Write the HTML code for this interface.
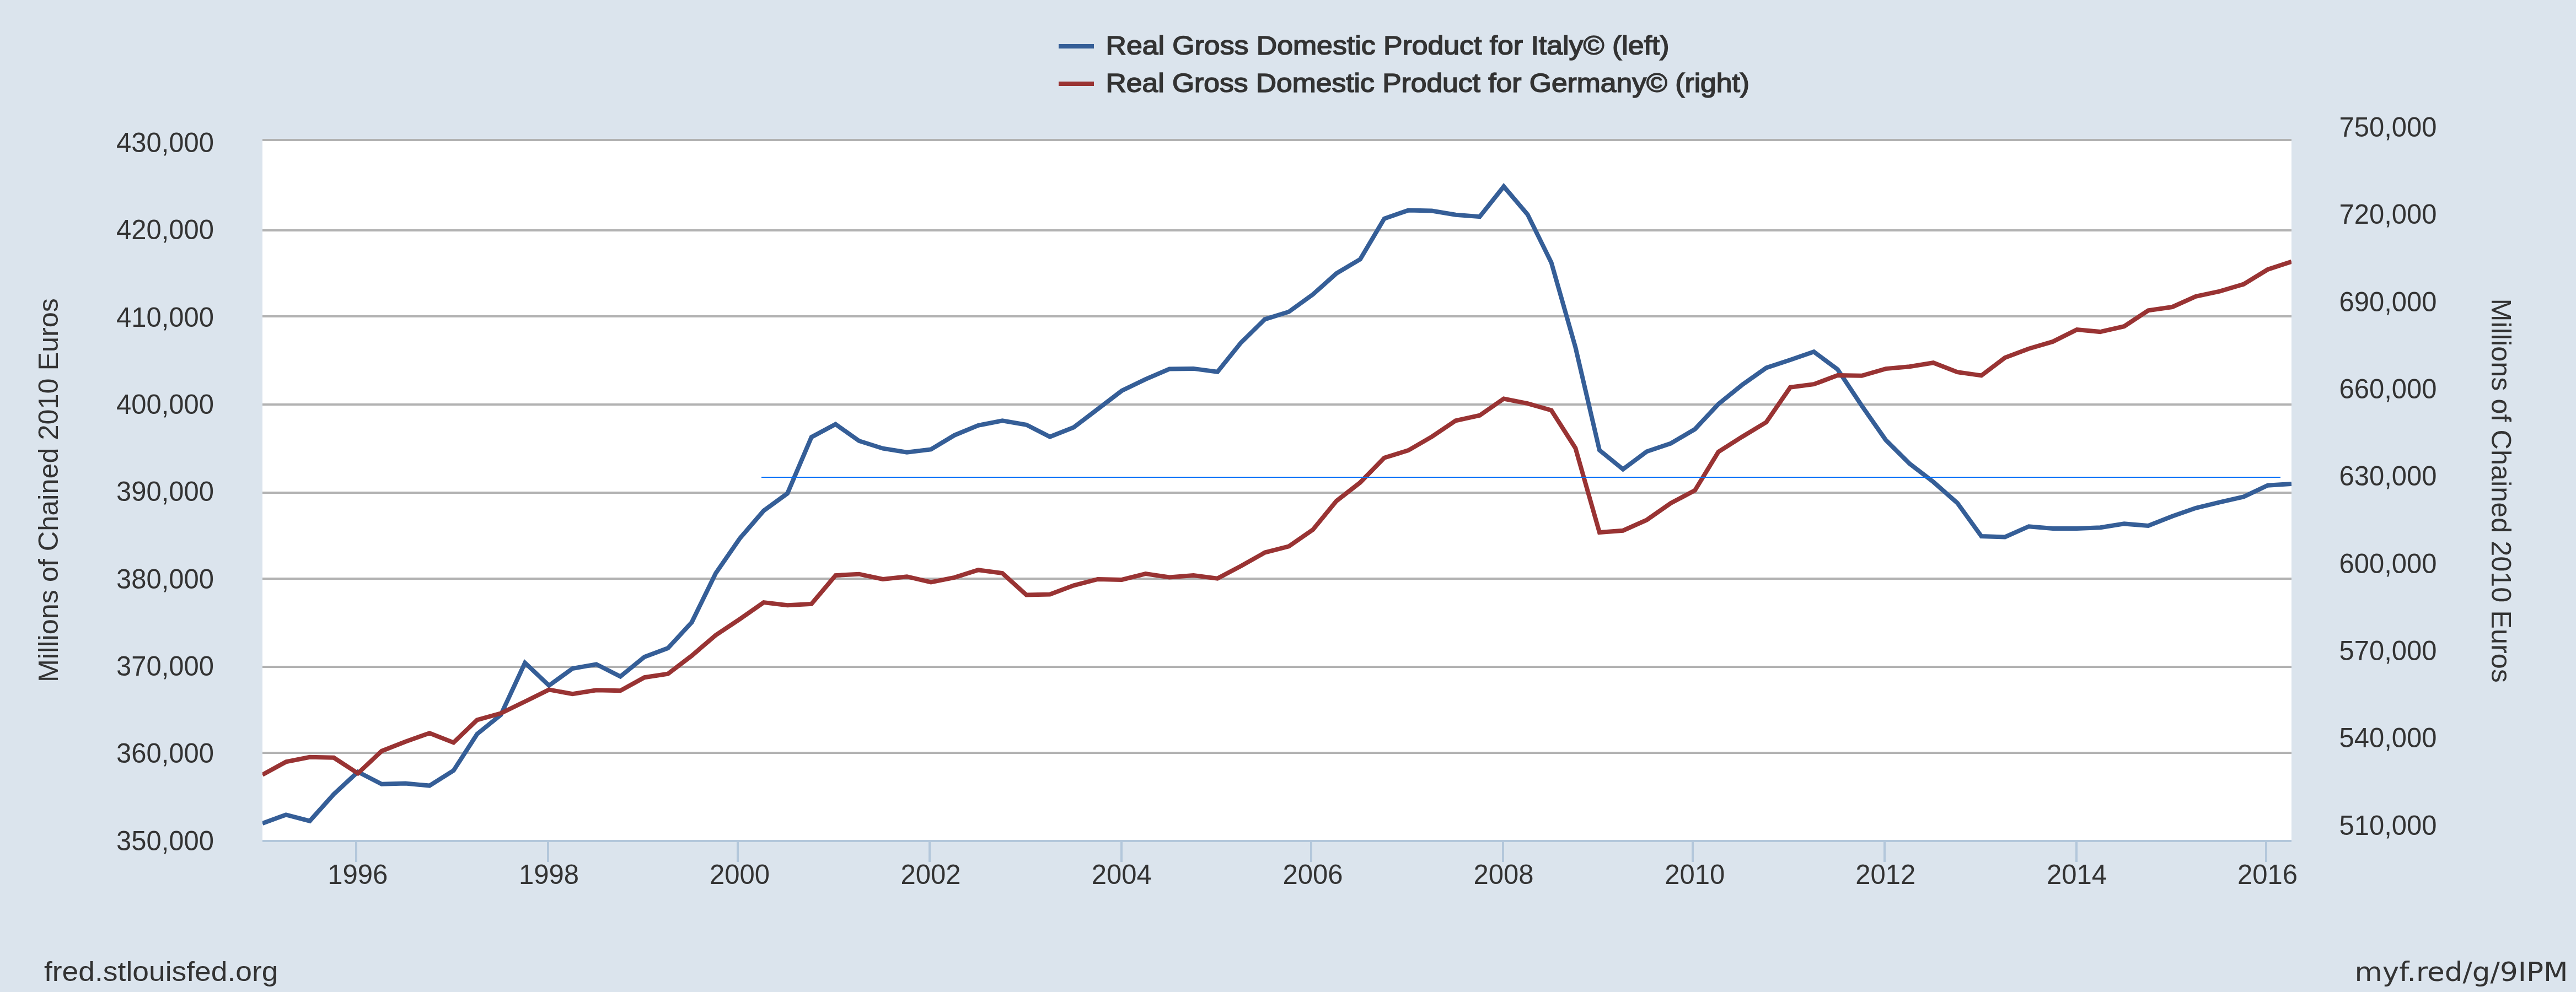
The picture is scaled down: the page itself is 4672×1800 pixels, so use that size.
<!DOCTYPE html>
<html><head><meta charset="utf-8"><title>FRED Graph</title>
<style>html,body{margin:0;padding:0;overflow:hidden;width:4672px;height:1800px;background:#dbe4ed}svg{display:block}text.lg{font-size:48.3px}text{font-family:"Liberation Sans",sans-serif;font-size:49.2px;fill:#333333}</style></head>
<body>
<svg width="4672" height="1800" viewBox="0 0 4672 1800">
<rect x="0" y="0" width="4672" height="1800" fill="#dbe4ed"/>
<rect x="476" y="254" width="3680" height="1274" fill="#ffffff"/>
<rect x="476" y="252" width="3680" height="4" fill="#b2b2b2"/>
<rect x="476" y="416" width="3680" height="4" fill="#b2b2b2"/>
<rect x="476" y="572" width="3680" height="4" fill="#b2b2b2"/>
<rect x="476" y="732" width="3680" height="4" fill="#b2b2b2"/>
<rect x="476" y="892" width="3680" height="4" fill="#b2b2b2"/>
<rect x="476" y="1048" width="3680" height="4" fill="#b2b2b2"/>
<rect x="476" y="1208" width="3680" height="4" fill="#b2b2b2"/>
<rect x="476" y="1364" width="3680" height="4" fill="#b2b2b2"/>
<rect x="476" y="1524" width="3680" height="4" fill="#b3c7db"/>
<rect x="644" y="1524" width="4" height="40" fill="#b3c7db"/>
<rect x="992" y="1524" width="4" height="40" fill="#b3c7db"/>
<rect x="1336" y="1524" width="4" height="40" fill="#b3c7db"/>
<rect x="1684" y="1524" width="4" height="40" fill="#b3c7db"/>
<rect x="2032" y="1524" width="4" height="40" fill="#b3c7db"/>
<rect x="2376" y="1524" width="4" height="40" fill="#b3c7db"/>
<rect x="2724" y="1524" width="4" height="40" fill="#b3c7db"/>
<rect x="3068" y="1524" width="4" height="40" fill="#b3c7db"/>
<rect x="3416" y="1524" width="4" height="40" fill="#b3c7db"/>
<rect x="3764" y="1524" width="4" height="40" fill="#b3c7db"/>
<rect x="4108" y="1524" width="4" height="40" fill="#b3c7db"/>
<defs><clipPath id="pc"><rect x="476" y="254" width="3680" height="1274"/></clipPath></defs>
<g clip-path="url(#pc)" fill="none" stroke-width="8" stroke-linejoin="miter" stroke-miterlimit="10" stroke-linecap="butt">
<path d="M476.0 1494.1 L518.7 1478.4 L561.8 1489.7 L605.4 1441.0 L649.1 1400.5 L692.2 1422.8 L735.4 1421.5 L779.0 1425.6 L822.6 1398.2 L865.3 1332.0 L908.4 1297.0 L952.1 1202.7 L995.7 1243.9 L1038.4 1213.0 L1081.5 1205.3 L1125.1 1227.5 L1168.8 1191.9 L1211.4 1176.1 L1254.6 1129.1 L1298.2 1040.0 L1341.8 977.0 L1385.0 926.8 L1428.1 895.3 L1471.7 793.1 L1515.4 769.8 L1558.0 800.0 L1601.2 813.7 L1644.8 820.6 L1688.4 815.4 L1731.1 789.7 L1774.3 771.9 L1817.9 763.3 L1861.5 770.8 L1904.2 792.5 L1947.3 775.5 L1991.0 742.3 L2034.6 709.0 L2077.7 688.1 L2120.9 669.6 L2164.5 668.9 L2208.1 674.7 L2250.8 621.6 L2294.0 579.4 L2337.6 565.7 L2381.2 534.2 L2423.9 496.1 L2467.0 470.4 L2510.6 396.7 L2554.3 381.6 L2596.9 382.6 L2640.1 389.8 L2683.7 393.2 L2727.3 338.4 L2770.5 389.1 L2813.6 476.5 L2857.3 630.0 L2900.9 816.8 L2943.6 851.5 L2986.7 819.3 L3030.3 804.5 L3074.0 778.8 L3116.6 733.2 L3159.8 698.3 L3203.4 667.4 L3247.0 653.0 L3289.7 638.3 L3332.8 670.2 L3376.5 736.0 L3420.1 798.4 L3463.2 841.2 L3506.4 874.4 L3550.0 912.7 L3593.6 973.0 L3636.3 974.5 L3679.5 955.2 L3723.1 958.9 L3766.7 958.9 L3809.4 957.2 L3852.5 950.4 L3896.2 954.0 L3939.8 936.8 L3982.5 921.8 L4025.6 911.3 L4069.2 901.4 L4112.9 880.7 L4156.0 878.1" stroke="#355e97"/>
<path d="M476.0 1405.7 L518.7 1382.4 L561.8 1373.8 L605.4 1374.8 L649.1 1403.3 L692.2 1362.8 L735.4 1345.7 L779.0 1330.3 L822.6 1347.4 L865.3 1306.3 L908.4 1294.3 L952.1 1273.0 L995.7 1251.4 L1038.4 1259.3 L1081.5 1252.3 L1125.1 1253.2 L1168.8 1229.2 L1211.4 1222.7 L1254.6 1189.8 L1298.2 1152.4 L1341.8 1123.3 L1385.0 1093.1 L1428.1 1098.3 L1471.7 1095.9 L1515.4 1044.1 L1558.0 1041.7 L1601.2 1051.0 L1644.8 1046.2 L1688.4 1056.4 L1731.1 1047.9 L1774.3 1034.2 L1817.9 1040.0 L1861.5 1079.4 L1904.2 1078.4 L1947.3 1062.3 L1991.0 1051.0 L2034.6 1052.0 L2077.7 1041.0 L2120.9 1047.5 L2164.5 1044.1 L2208.1 1049.6 L2250.8 1027.0 L2294.0 1002.6 L2337.6 991.3 L2381.2 961.1 L2423.9 909.0 L2467.0 875.4 L2510.6 830.8 L2554.3 817.1 L2596.9 792.4 L2640.1 763.3 L2683.7 753.7 L2727.3 723.5 L2770.5 732.1 L2813.6 744.5 L2857.3 813.0 L2900.9 966.0 L2943.6 962.7 L2986.7 943.4 L3030.3 913.0 L3074.0 889.8 L3116.6 820.0 L3159.8 792.5 L3203.4 766.1 L3247.0 702.7 L3289.7 697.2 L3332.8 681.1 L3376.5 681.8 L3420.1 669.1 L3463.2 665.3 L3506.4 658.2 L3550.0 675.2 L3593.6 681.4 L3636.3 649.1 L3679.5 632.7 L3723.1 619.9 L3766.7 598.1 L3809.4 602.1 L3852.5 592.2 L3896.2 563.3 L3939.8 557.0 L3982.5 537.8 L4025.6 528.7 L4069.2 515.7 L4112.9 489.0 L4156.0 474.9" stroke="#993333"/>
</g>
<rect x="1381" y="865" width="2755" height="2" fill="#0070f8"/>
<text x="648.8" y="1604" text-anchor="middle" textLength="109" lengthAdjust="spacingAndGlyphs">1996</text>
<text x="995.4" y="1604" text-anchor="middle" textLength="109" lengthAdjust="spacingAndGlyphs">1998</text>
<text x="1341.5" y="1604" text-anchor="middle" textLength="109" lengthAdjust="spacingAndGlyphs">2000</text>
<text x="1688.1" y="1604" text-anchor="middle" textLength="109" lengthAdjust="spacingAndGlyphs">2002</text>
<text x="2034.3" y="1604" text-anchor="middle" textLength="109" lengthAdjust="spacingAndGlyphs">2004</text>
<text x="2380.9" y="1604" text-anchor="middle" textLength="109" lengthAdjust="spacingAndGlyphs">2006</text>
<text x="2727.0" y="1604" text-anchor="middle" textLength="109" lengthAdjust="spacingAndGlyphs">2008</text>
<text x="3073.7" y="1604" text-anchor="middle" textLength="109" lengthAdjust="spacingAndGlyphs">2010</text>
<text x="3419.8" y="1604" text-anchor="middle" textLength="109" lengthAdjust="spacingAndGlyphs">2012</text>
<text x="3766.4" y="1604" text-anchor="middle" textLength="109" lengthAdjust="spacingAndGlyphs">2014</text>
<text x="4112.6" y="1604" text-anchor="middle" textLength="109" lengthAdjust="spacingAndGlyphs">2016</text>
<text x="388" y="276.1" text-anchor="end" textLength="177" lengthAdjust="spacingAndGlyphs">430,000</text>
<text x="388" y="434.4" text-anchor="end" textLength="177" lengthAdjust="spacingAndGlyphs">420,000</text>
<text x="388" y="592.7" text-anchor="end" textLength="177" lengthAdjust="spacingAndGlyphs">410,000</text>
<text x="388" y="751.0" text-anchor="end" textLength="177" lengthAdjust="spacingAndGlyphs">400,000</text>
<text x="388" y="909.3" text-anchor="end" textLength="177" lengthAdjust="spacingAndGlyphs">390,000</text>
<text x="388" y="1067.6" text-anchor="end" textLength="177" lengthAdjust="spacingAndGlyphs">380,000</text>
<text x="388" y="1225.9" text-anchor="end" textLength="177" lengthAdjust="spacingAndGlyphs">370,000</text>
<text x="388" y="1384.2" text-anchor="end" textLength="177" lengthAdjust="spacingAndGlyphs">360,000</text>
<text x="388" y="1542.5" text-anchor="end" textLength="177" lengthAdjust="spacingAndGlyphs">350,000</text>
<text x="4242.5" y="248.1" textLength="177" lengthAdjust="spacingAndGlyphs">750,000</text>
<text x="4242.5" y="406.4" textLength="177" lengthAdjust="spacingAndGlyphs">720,000</text>
<text x="4242.5" y="564.7" textLength="177" lengthAdjust="spacingAndGlyphs">690,000</text>
<text x="4242.5" y="723.0" textLength="177" lengthAdjust="spacingAndGlyphs">660,000</text>
<text x="4242.5" y="881.3" textLength="177" lengthAdjust="spacingAndGlyphs">630,000</text>
<text x="4242.5" y="1039.6" textLength="177" lengthAdjust="spacingAndGlyphs">600,000</text>
<text x="4242.5" y="1197.9" textLength="177" lengthAdjust="spacingAndGlyphs">570,000</text>
<text x="4242.5" y="1356.2" textLength="177" lengthAdjust="spacingAndGlyphs">540,000</text>
<text x="4242.5" y="1514.5" textLength="177" lengthAdjust="spacingAndGlyphs">510,000</text>
<text transform="translate(105.2 1238) rotate(-90)" textLength="697" lengthAdjust="spacingAndGlyphs">Millions of Chained 2010 Euros</text>
<text transform="translate(4519.4 541.5) rotate(90)" textLength="697.5" lengthAdjust="spacingAndGlyphs">Millions of Chained 2010 Euros</text>
<rect x="1920" y="80" width="64" height="8" fill="#355e97"/>
<rect x="1920" y="148" width="64" height="8" fill="#993333"/>
<text class="lg" x="2005.5" y="99.0" textLength="1022" lengthAdjust="spacingAndGlyphs" stroke="#333333" stroke-width="1.6">Real Gross Domestic Product for Italy© (left)</text>
<text class="lg" x="2005.5" y="167.0" textLength="1167.5" lengthAdjust="spacingAndGlyphs" stroke="#333333" stroke-width="1.6">Real Gross Domestic Product for Germany© (right)</text>
<text x="80" y="1780" textLength="424.5" lengthAdjust="spacingAndGlyphs">fred.stlouisfed.org</text>
<text x="4270.5" y="1780" textLength="387" lengthAdjust="spacingAndGlyphs" style="font-family:'DejaVu Sans',sans-serif;font-size:48px">myf.red/g/9IPM</text>
</svg>
</body></html>
